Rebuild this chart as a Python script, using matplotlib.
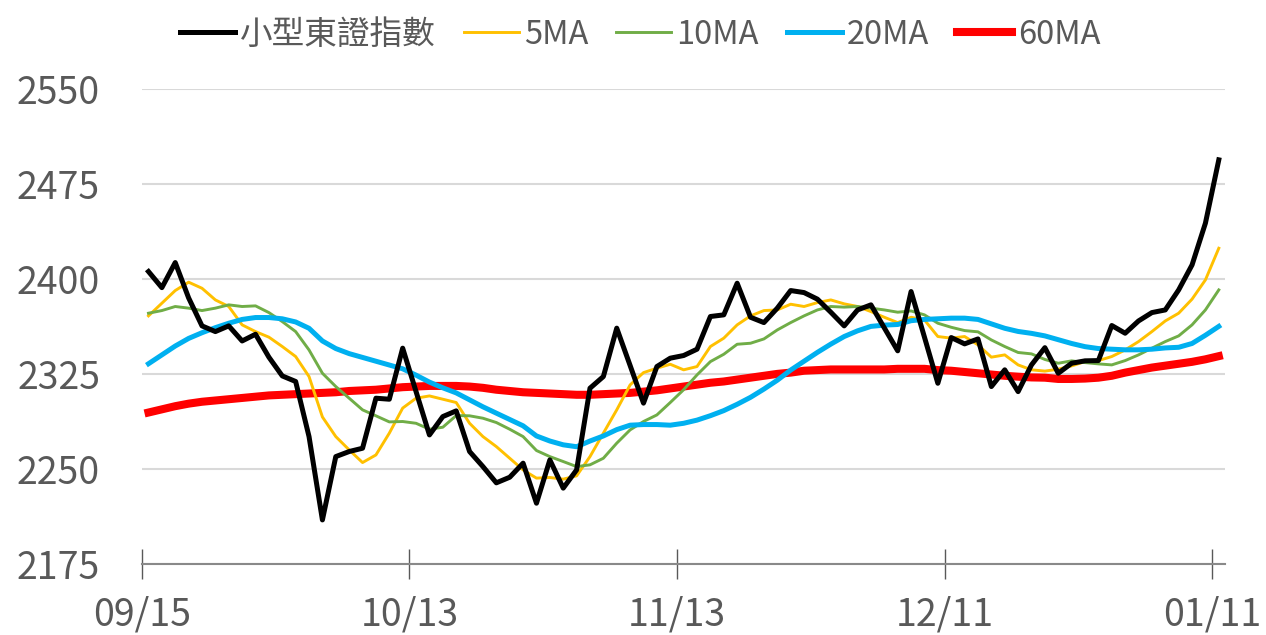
import numpy as np
import matplotlib
matplotlib.use('Agg')
import matplotlib.pyplot as plt

plt.rcParams['font.family'] = ['Noto Sans CJK TC', 'DejaVu Sans']

# 數據
tick_labels = ['09/15', '10/13', '11/13', '12/11', '01/11']
tick_pos = [0, 20, 40, 60, 80]

index = [2405.8, 2393.1, 2412.9, 2385.0, 2362.9, 2358.4, 2362.9, 2351.0, 2356.3, 2338.2,
         2323.4, 2319.0, 2275.5, 2209.7, 2259.7, 2263.7, 2266.3, 2305.8, 2305.0, 2345.3,
         2311.0, 2276.8, 2291.3, 2295.8, 2263.7, 2251.8, 2239.0, 2243.4, 2254.5, 2222.9,
         2257.1, 2234.8, 2249.2, 2313.7, 2322.9, 2361.1, 2331.6, 2301.9, 2330.8, 2337.4,
         2339.5, 2344.5, 2370.3, 2371.6, 2396.6, 2369.7, 2365.5, 2376.9, 2390.8, 2389.2,
         2384.0, 2373.7, 2362.9, 2375.5, 2379.5, 2361.3, 2343.2, 2390.0, 2354.0, 2317.6,
         2353.7, 2348.7, 2352.6, 2315.0, 2328.2, 2311.0, 2332.1, 2345.7, 2325.5, 2333.4,
         2335.3, 2335.5, 2363.2, 2357.1, 2366.8, 2373.4, 2375.5, 2391.3, 2411.0, 2444.0,
         2494.0]

ma5 = [2370.8, 2380.8, 2390.8, 2397.4, 2392.6, 2383.4, 2378.2, 2363.7, 2358.4, 2354.0,
       2346.6, 2338.7, 2322.9, 2291.0, 2275.5, 2265.0, 2255.0, 2261.0, 2278.2, 2298.0,
       2305.8, 2307.6, 2305.0, 2302.4, 2286.0, 2275.5, 2267.6, 2258.4, 2249.2, 2242.7,
       2243.2, 2241.9, 2244.5, 2259.7, 2278.2, 2296.6, 2316.3, 2326.0, 2329.5, 2332.6,
       2328.2, 2330.8, 2346.6, 2353.2, 2363.7, 2370.8, 2375.0, 2375.5, 2380.0, 2378.2,
       2381.3, 2383.4, 2380.3, 2378.2, 2374.2, 2369.7, 2365.5, 2369.7, 2367.6, 2354.5,
       2353.2, 2354.5, 2347.9, 2338.2, 2340.0, 2332.1, 2328.2, 2327.2, 2328.7, 2331.3,
       2334.7, 2335.5, 2338.7, 2343.9, 2350.5, 2358.4, 2366.8, 2372.9, 2384.0, 2399.2,
       2424.2]

ma10 = [2372.9, 2375.0, 2378.2, 2376.9, 2375.0, 2376.9, 2379.5, 2378.2, 2378.7, 2373.4,
        2366.3, 2358.4, 2343.9, 2325.5, 2315.0, 2305.8, 2296.6, 2291.9, 2287.1, 2287.4,
        2286.0, 2281.3, 2282.9, 2292.1, 2291.9, 2290.0, 2286.6, 2281.3, 2275.5, 2264.5,
        2259.7, 2255.8, 2251.8, 2253.2, 2258.4, 2270.3, 2280.8, 2287.4, 2292.6, 2302.4,
        2312.5, 2324.2, 2334.7, 2340.5, 2348.4, 2349.2, 2352.6, 2359.7, 2365.5, 2370.8,
        2375.5, 2378.2, 2377.7, 2378.2, 2376.9, 2375.5, 2373.7, 2374.7, 2371.6, 2365.0,
        2361.8, 2359.2, 2358.2, 2351.8, 2346.6, 2341.9, 2340.8, 2336.4, 2333.4, 2335.3,
        2333.9, 2332.9, 2332.1, 2335.5, 2340.0, 2345.3, 2350.5, 2355.0, 2363.7, 2375.5,
        2391.3]

ma20 = [2333.0, 2340.0, 2347.0, 2353.0, 2357.5, 2361.5, 2365.0, 2368.0, 2369.5, 2369.5,
        2368.5, 2366.0, 2361.0, 2351.0, 2345.0, 2341.0, 2338.0, 2335.0, 2332.0, 2329.0,
        2324.0, 2318.5, 2314.0, 2310.0, 2304.5, 2299.0, 2294.0, 2289.0, 2284.0, 2276.0,
        2272.0, 2269.0, 2267.5, 2272.0, 2276.0, 2281.0, 2284.5, 2285.0, 2285.0, 2284.5,
        2286.0, 2288.5, 2292.0, 2296.0, 2301.0, 2306.5, 2313.0, 2320.0, 2328.0, 2335.0,
        2342.0, 2348.5, 2354.5, 2359.0, 2362.5, 2363.5, 2364.0, 2367.0, 2368.0, 2368.5,
        2369.0, 2369.0, 2368.0, 2364.5, 2361.0, 2358.5, 2357.0, 2355.0, 2352.0, 2349.0,
        2346.5, 2345.0, 2344.5, 2344.0, 2344.0, 2344.5, 2345.5, 2346.0, 2349.0, 2355.5,
        2362.5]

ma60 = [2294.5, 2297.0, 2299.5, 2301.5, 2303.0, 2304.0, 2305.0, 2306.0, 2307.0, 2308.0,
        2308.5, 2309.0, 2309.5, 2310.0, 2310.5, 2311.5, 2312.0, 2312.5, 2313.5, 2314.5,
        2315.0, 2315.5, 2315.5, 2315.5, 2315.0, 2314.0, 2312.5, 2311.5, 2310.5, 2310.0,
        2309.5, 2309.0, 2308.5, 2308.5, 2309.0, 2309.5, 2310.0, 2311.0, 2312.0, 2313.5,
        2315.0, 2316.5, 2318.0, 2319.0, 2320.5, 2322.0, 2323.5, 2325.0, 2326.0, 2327.5,
        2328.0, 2328.5, 2328.5, 2328.5, 2328.5, 2328.5, 2329.0, 2329.0, 2329.0, 2328.0,
        2327.5, 2326.5, 2325.5, 2324.5, 2323.5, 2322.8, 2322.2, 2322.0, 2321.0, 2321.0,
        2321.3, 2322.0, 2323.5, 2326.0, 2328.0, 2330.0, 2331.5, 2333.0, 2334.5, 2336.5,
        2339.0]

x = np.arange(len(index))
text_color = '#595959'

fig = plt.figure(figsize=(12.66, 6.35), dpi=100)
ax = fig.add_axes([0.112, 0.112, 0.856, 0.748])

ax.plot(x, index, color='black', lw=3.6, label='小型東證指數', zorder=6)
ax.plot(x, ma5, color='#FFC000', lw=2.1, label='5MA', zorder=3)
ax.plot(x, ma10, color='#70AD47', lw=2.1, label='10MA', zorder=4)
ax.plot(x, ma20, color='#00B0F0', lw=3.6, label='20MA', zorder=5)
ax.plot(x, ma60, color='#FF0000', lw=5.8, label='60MA', zorder=2)

ax.set_xlim(-0.5, len(index) - 0.5)
ax.set_ylim(2175, 2550)
ax.set_yticks([2175, 2250, 2325, 2400, 2475, 2550])
ax.set_xticks([p - 0.5 for p in tick_pos])
ax.set_xticklabels(tick_labels)

ax.grid(axis='y', color='#D9D9D9', lw=1.5)
ax.set_axisbelow(True)
for s in ['top', 'right', 'left']:
    ax.spines[s].set_visible(False)
ax.spines['bottom'].set_color('#898989')
ax.spines['bottom'].set_linewidth(1.5)

ax.tick_params(axis='y', length=0, pad=30, labelsize=27, labelcolor=text_color)
ax.tick_params(axis='x', direction='inout', length=22, width=1, color='#595959',
               pad=12, labelsize=27, labelcolor=text_color)

fig.legend(loc='upper center', bbox_to_anchor=(0.5055, 1.017), ncol=5, frameon=False,
           fontsize=23.5, labelcolor=text_color, handlelength=1.69, handletextpad=0.16,
           columnspacing=0.85)

plt.savefig('out.png', dpi=100)
